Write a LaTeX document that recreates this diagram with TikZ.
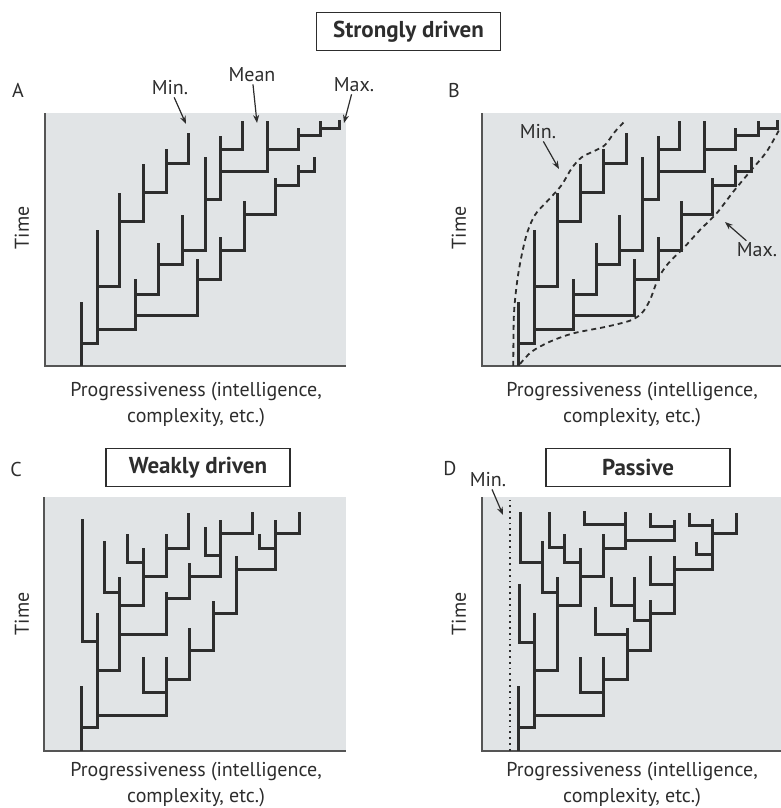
\documentclass[tikz,border=0pt]{standalone}
\usepackage{fontspec}
\setmainfont{PT Sans}
\usepackage{tikz}
\usetikzlibrary{arrows.meta,positioning}
\definecolor{panelgray}{RGB}{225,228,230}
\definecolor{ink}{RGB}{45,45,45}
\definecolor{axisgray}{RGB}{85,85,85}
\newcommand{\drivenTree}{%
  \draw[lineage] (155,918) -- (155,725);
  \draw[lineage] (155,850) -| (203,510);
  \draw[lineage] (203,680) -| (270,400);
  \draw[lineage] (270,485) -| (340,313);
  \draw[lineage] (340,398) -| (410,268);
  \draw[lineage] (410,310) -| (477,218);
  \draw[lineage] (203,810) -| (318,657);
  \draw[lineage] (318,703) -| (387,550);
  \draw[lineage] (387,615) -| (457,465);
  \draw[lineage] (457,573) -| (527,290);
  \draw[lineage] (527,420) -| (573,227);
  \draw[lineage] (573,268) -| (638,183);
  \draw[lineage] (573,335) -| (712,183);
  \draw[lineage] (712,268) -| (805,205);
  \draw[lineage] (805,228) -| (873,183);
  \draw[lineage] (873,207) -| (930,180);
  \draw[lineage] (318,768) -| (503,598);
  \draw[lineage] (503,660) -| (573,530);
  \draw[lineage] (573,573) -| (643,423);
  \draw[lineage] (643,463) -| (737,355);
  \draw[lineage] (737,378) -| (805,315);
  \draw[lineage] (805,335) -| (853,290);
}
\newcommand{\weakTree}{%
  \draw[lineage] (155,872) -- (155,678);
  \draw[lineage] (155,803) -| (203,460);
  \draw[lineage] (203,545) -| (158,177);
  \draw[lineage] (203,767) -| (410,590);
  \draw[lineage] (203,633) -| (270,350);
  \draw[lineage] (270,397) -| (223,243);
  \draw[lineage] (270,523) -| (410,397);
  \draw[lineage] (270,438) -| (340,265);
  \draw[lineage] (340,307) -| (293,222);
  \draw[lineage] (340,350) -| (410,222);
  \draw[lineage] (410,265) -| (475,158);
  \draw[lineage] (410,415) -| (480,308);
  \draw[lineage] (480,350) -| (573,180);
  \draw[lineage] (573,287) -| (527,200);
  \draw[lineage] (573,220) -| (667,157);
  \draw[lineage] (410,697) -| (340,590);
  \draw[lineage] (410,658) -| (480,503);
  \draw[lineage] (480,572) -| (550,422);
  \draw[lineage] (550,460) -| (620,287);
  \draw[lineage] (620,328) -| (737,180);
  \draw[lineage] (737,265) -| (690,222);
  \draw[lineage] (737,220) -| (808,157);
}
\newcommand{\passiveTree}{%
  \draw[lineage] (297,872) -- (297,678);
  \draw[lineage] (297,803) -| (345,460);
  \draw[lineage] (345,547) -| (300,373);
  \draw[lineage] (345,767) -| (552,590);
  \draw[lineage] (345,633) -| (413,350);
  \draw[lineage] (413,397) -| (367,243);
  \draw[lineage] (367,307) -| (302,157);
  \draw[lineage] (413,438) -| (483,265);
  \draw[lineage] (483,307) -| (435,222);
  \draw[lineage] (435,263) -| (390,157);
  \draw[lineage] (483,350) -| (550,222);
  \draw[lineage] (550,265) -| (617,157);
  \draw[lineage] (617,193) -| (493,152);
  \draw[lineage] (617,242) -| (763,180);
  \draw[lineage] (763,200) -| (692,158);
  \draw[lineage] (552,698) -| (483,590);
  \draw[lineage] (552,658) -| (623,503);
  \draw[lineage] (623,525) -| (528,440);
  \draw[lineage] (623,572) -| (692,420);
  \draw[lineage] (692,482) -| (645,352);
  \draw[lineage] (645,438) -| (575,352);
  \draw[lineage] (692,460) -| (763,288);
  \draw[lineage] (763,373) -| (692,288);
  \draw[lineage] (763,330) -| (878,178);
  \draw[lineage] (878,285) -| (830,245);
  \draw[lineage] (878,198) -| (808,158);
  \draw[lineage] (878,220) -| (950,158);
}

\begin{document}
\begin{tikzpicture}[x=1pt,y=-1pt,
  lineage/.style={draw=ink,line width=3pt},
  axis/.style={draw=axisgray,line width=1.6pt},
  lbl/.style={text=ink,font=\fontsize{20}{26}\selectfont,inner sep=2pt},
  titlebox/.style={draw=ink,line width=1.3pt,text=ink,font=\bfseries\fontsize{23}{26}\selectfont,minimum width=184pt,minimum height=38pt},
  pointer/.style={draw=ink,line width=1.2pt,-{Stealth[length=8pt,width=6pt]}},
  bound/.style={draw=ink,line width=1.8pt,dash pattern=on 5pt off 4pt}]
  \useasboundingbox (0,0) rectangle (781,808);

  % panels
  \fill[panelgray] (45,113) rectangle (346,366);
  \fill[panelgray] (482,113) rectangle (781,366);
  \fill[panelgray] (44,497) rectangle (346,751);
  \fill[panelgray] (482,497) rectangle (781,751);
  \draw[axis] (45,113) -- (45,366) -- (346,366);
  \draw[axis] (482,113) -- (482,366) -- (781,366);
  \draw[axis] (44,497) -- (44,751) -- (346,751);
  \draw[axis] (482,497) -- (482,751) -- (781,751);

  % trees
  \begin{scope}[shift={(30,60)},x=0.3333pt,y=-0.3333pt]
    \drivenTree
  \end{scope}
  \begin{scope}[shift={(467.3,60)},x=0.3333pt,y=-0.3333pt]
    \drivenTree
  \end{scope}
  \begin{scope}[shift={(30,460)},x=0.3333pt,y=-0.3333pt]
    \weakTree
  \end{scope}
  \begin{scope}[shift={(420,460)},x=0.3333pt,y=-0.3333pt]
    \passiveTree
    \draw[ink,line width=1.8pt,dash pattern=on 1.8pt off 4pt] (270,872) -- (270,120);
  \end{scope}

  % bounds in B
  \begin{scope}[shift={(420,60)},x=0.3333pt,y=-0.3333pt]
    \draw[bound] plot[smooth] coordinates {(280,918) (282,760) (295,640) (318,530) (345,465) (390,415) (425,375) (455,325) (485,292) (525,272) (555,255) (585,215) (612,186)};
    \draw[bound] plot[smooth] coordinates {(300,912) (335,875) (390,845) (460,820) (560,800) (630,782) (665,760) (690,720) (715,655) (745,610) (790,565) (840,510) (890,460) (940,395) (990,335) (1040,275) (1080,205)};
  \end{scope}

  % titles
  \node[titlebox] (strong) at (408.5,31.5) {Strongly driven};
  \node[titlebox] (weak) at (198,467.5) {Weakly driven};
  \node[titlebox] (passive) at (638,467.5) {Passive};

  % panel letters
  \node[lbl] (tagA) at (18,90) {A};
  \node[lbl] (tagB) at (454,90) {B};
  \node[lbl] (tagC) at (16,469) {C};
  \node[lbl] (tagD) at (450,469) {D};

  % axis labels
  \node[lbl,rotate=90] (timeA) at (22,228) {Time};
  \node[lbl,rotate=90] (timeB) at (459,228) {Time};
  \node[lbl,rotate=90] (timeC) at (22,614) {Time};
  \node[lbl,rotate=90] (timeD) at (459,614) {Time};
  \node[lbl,align=center] (progA) at (196,405) {Progressiveness (intelligence,\\complexity, etc.)};
  \node[lbl,align=center] (progB) at (632,405) {Progressiveness (intelligence,\\complexity, etc.)};
  \node[lbl,align=center] (progC) at (196,785) {Progressiveness (intelligence,\\complexity, etc.)};
  \node[lbl,align=center] (progD) at (632,785) {Progressiveness (intelligence,\\complexity, etc.)};

  % pointers
  \node[lbl] (minA) at (170,88) {Min.};
  \node[lbl] (meanA) at (252,75) {Mean};
  \node[lbl] (maxA) at (354,85) {Max.};
  \coordinate (minAtip) at (186,124);
  \coordinate (meanAtip) at (257,123);
  \coordinate (maxAtip) at (344,123);
  \draw[pointer] (minA) -- (minAtip);
  \draw[pointer] (meanA) -- (meanAtip);
  \draw[pointer] (maxA) -- (maxAtip);
  \node[lbl] (minB) at (538,132) {Min.};
  \node[lbl] (maxB) at (757,250) {Max.};
  \coordinate (minBtip) at (559,169);
  \coordinate (maxBtip) at (725,222);
  \draw[pointer] (minB) -- (minBtip);
  \draw[pointer] (maxB) -- (maxBtip);
  \node[lbl] (minD) at (488,480) {Min.};
  \coordinate (minDtip) at (503,515);
  \draw[pointer] (minD) -- (minDtip);
\end{tikzpicture}
\end{document}
